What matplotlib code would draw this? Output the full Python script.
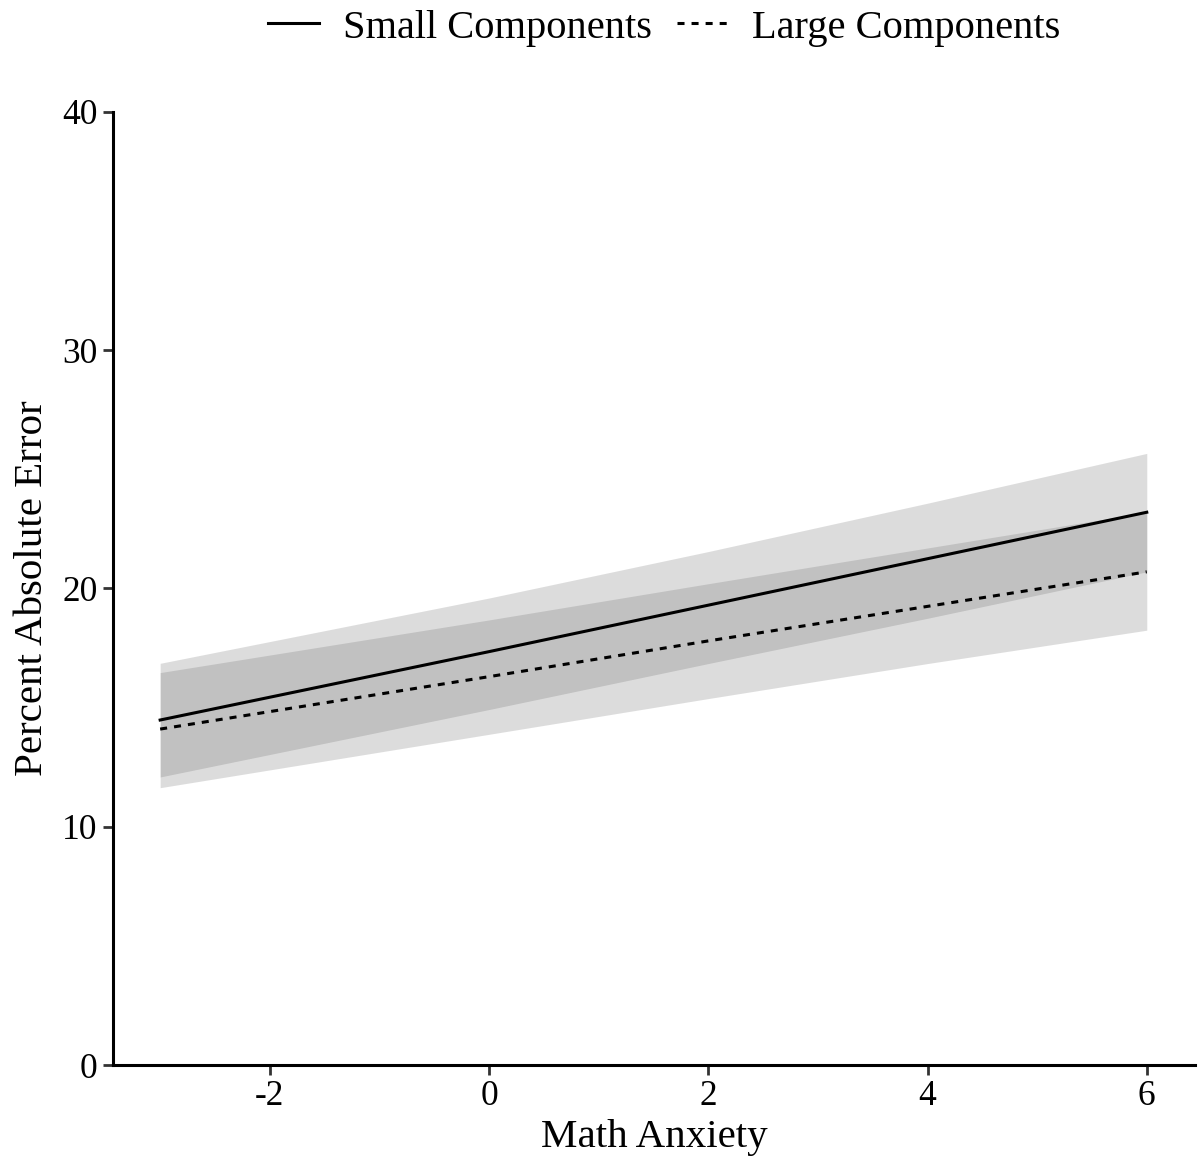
import numpy as np
import matplotlib
matplotlib.use("Agg")
import matplotlib.pyplot as plt

# values (Math Anxiety vs Percent Absolute Error)
anxiety = [-3, 0, 2, 4, 6]
small_fit = [14.48, 17.35, 19.30, 21.25, 23.20]
small_lo = [12.09, 14.92, 16.85, 18.75, 20.70]
small_hi = [16.86, 19.60, 21.55, 23.58, 25.67]
large_fit = [14.10, 16.30, 17.80, 19.25, 20.70]
large_lo = [11.64, 13.88, 15.38, 16.85, 18.25]
large_hi = [16.47, 18.68, 20.20, 21.70, 23.20]

xticks = [-2, 0, 2, 4, 6]
yticks = [0, 10, 20, 30, 40]

plt.rcParams['font.family'] = ['Liberation Serif', 'DejaVu Serif']

fig = plt.figure(figsize=(12.01, 11.65), dpi=100)
ax = fig.add_axes([0.0941, 0.0858, 0.9009, 0.8181])

ax.fill_between(anxiety, small_lo, small_hi, color='#5a5a5a', alpha=0.206, lw=0)
ax.fill_between(anxiety, large_lo, large_hi, color='#5a5a5a', alpha=0.206, lw=0)
ax.plot(anxiety, small_fit, color='black', lw=2.2, label='Small Components')
ax.plot(anxiety, large_fit, color='black', lw=2.2, linestyle=(0, (2.3, 2.3)),
        label='Large Components')

ax.set_xlim(-3.43, 6.44)
ax.set_ylim(0, 40)
ax.set_xticks(xticks)
ax.set_yticks(yticks)
ax.set_xticklabels([str(t) for t in xticks])
ax.tick_params(labelsize=25.5, width=2, length=7, color='#333333', pad=4)

for side in ['top', 'right']:
    ax.spines[side].set_visible(False)
for side in ['left', 'bottom']:
    ax.spines[side].set_linewidth(2.2)

ax.set_xlabel('Math Anxiety', fontsize=29.5, labelpad=4)
ax.set_ylabel('Percent Absolute Error', fontsize=29.5, labelpad=8)

fig.legend(loc='center', bbox_to_anchor=(0.553, 0.976), ncol=2, frameon=False,
           fontsize=29.2, handlelength=1.25, handletextpad=0.6, columnspacing=0.6)

fig.savefig('out.png', dpi=100)
